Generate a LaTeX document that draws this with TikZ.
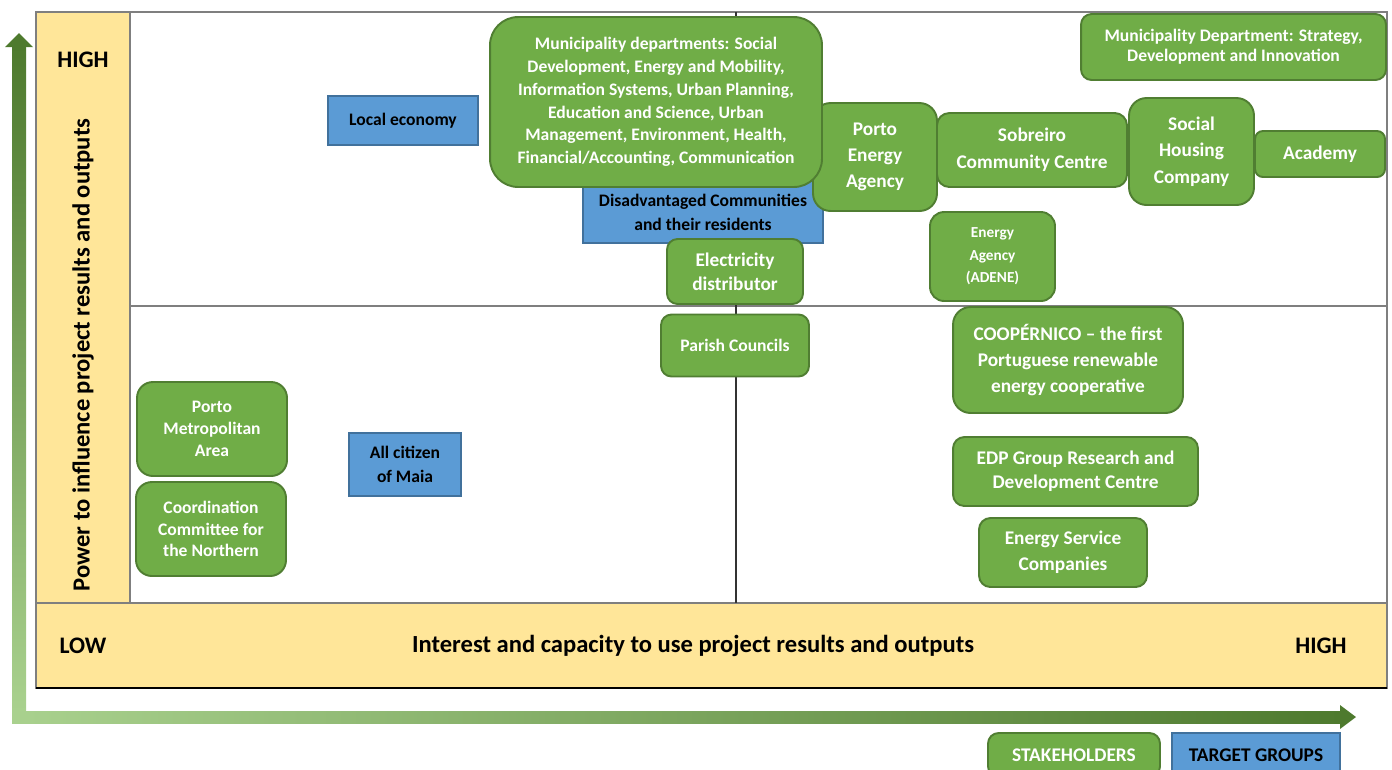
\documentclass[tikz,border=0pt]{standalone}
\usepackage{fontspec}
\setmainfont{Carlito}

\definecolor{gridyellow}{HTML}{FFE699}
\definecolor{stakefill}{HTML}{70AD47}
\definecolor{stakeline}{HTML}{507E32}
\definecolor{targetfill}{HTML}{5B9BD5}
\definecolor{targetline}{HTML}{41719C}
\definecolor{arrdark}{HTML}{4E7A2E}
\definecolor{arrmid}{HTML}{70AD47}
\definecolor{arrlight}{HTML}{A9D18E}
\definecolor{gridline}{HTML}{7F7F7F}

\newcommand\boxfs[1]{\fontsize{10}{#1}\selectfont\bfseries}
\newcommand\boxfsl[1]{\fontsize{11}{#1}\selectfont\bfseries}

\begin{document}
\begin{tikzpicture}[x=0.02cm, y=-0.02cm,
    stake/.style={draw=stakeline, fill=stakefill, text=white, line width=1.1pt,
                  align=center, inner sep=0pt, font=\boxfs{13}},
    target/.style={draw=targetline, fill=targetfill, text=black, line width=1.1pt,
                   align=center, inner sep=0pt, font=\boxfs{13.6}},
    axislabel/.style={font=\fontsize{13.5}{16}\selectfont\bfseries, inner sep=0pt},
    axistitle/.style={font=\fontsize{14}{16}\selectfont\bfseries, inner sep=0pt}]

      \path[use as bounding box, clip] (0,0) rectangle (1392,769);

      % grid
      \fill[gridyellow] (36,12) rectangle (130,688);
      \fill[gridyellow] (36,603) rectangle (1387,688);
      \draw[gridline, line width=0.8pt] (36,12) rectangle (1387,688);
      \draw[gridline, line width=0.8pt] (130,12) -- (130,603);
      \draw[gridline, line width=0.8pt] (36,603) -- (1387,603);
      \draw[gridline, line width=0.8pt] (130,306) -- (1387,306);
      \draw[black!80, line width=0.6pt] (736,12) -- (736,603);
      \draw[black, line width=0.8pt] (36,688) -- (1387,688);

      \node[axislabel] (hiY) at (83,60) {HIGH};
      \node[axislabel] (loX) at (83,646) {LOW};
      \node[axislabel] (hiX) at (1321,646) {HIGH};
      \node[axistitle, rotate=90] (ytitle) at (83,355) {Power to influence project results and outputs};
      \node[axistitle] (xtitle) at (693,646) {Interest and capacity to use project results and outputs};

      % green arrows
      \fill[top color=arrdark, middle color=arrmid, bottom color=arrlight] (12,47) rectangle (26,711);
      \fill[arrdark] (5,47) -- (19,33) -- (33,47) -- cycle;
      \fill[left color=arrlight, middle color=arrmid, right color=arrdark] (12,711) rectangle (1341,723);
      \fill[arrdark] (1340,705) -- (1356,717) -- (1340,729) -- cycle;

      % high power, low interest
      \node[target, minimum width=3.00cm, minimum height=0.98cm] (local) at (403,120.5) {Local economy};
      \node[target, minimum width=4.80cm, minimum height=1.24cm] (disadv) at (703,212) {Disadvantaged Communities\\and their residents};
      \node[stake, rounded corners=10pt, minimum width=2.48cm, minimum height=2.16cm, font=\boxfsl{14.8}] (portoea) at (875,157) {Porto\\Energy\\Agency};
      \node[stake, rounded corners=16pt, minimum width=6.64cm, minimum height=3.40cm] (munidep) at (656,102)
        {Municipality departments: Social\\Development, Energy and Mobility,\\Information Systems, Urban Planning,\\Education and Science, Urban\\Management, Environment, Health,\\Financial/Accounting, Communication};
      \node[stake, rounded corners=6pt, minimum width=2.72cm, minimum height=1.30cm, font=\boxfsl{13.6}] (elec) at (735,271.5) {Electricity\\distributor};

      % high power, high interest
      \node[stake, rounded corners=6pt, minimum width=6.10cm, minimum height=1.32cm, font=\boxfs{11.3}] (munistrat) at (1233.5,47) {Municipality Department: Strategy,\\Development and Innovation};
      \node[stake, rounded corners=7pt, minimum width=3.80cm, minimum height=1.48cm, font=\boxfsl{15.3}] (sobreiro) at (1032,150) {Sobreiro\\Community Centre};
      \node[stake, rounded corners=10pt, minimum width=2.50cm, minimum height=2.14cm, font=\boxfsl{15}] (socialhc) at (1191.5,151.5) {Social\\Housing\\Company};
      \node[stake, rounded corners=4.5pt, minimum width=2.60cm, minimum height=0.92cm, font=\boxfsl{13}] (academy) at (1320,154) {Academy};
      \node[stake, rounded corners=8pt, minimum width=2.50cm, minimum height=1.78cm, font=\fontsize{8.7}{12.8}\selectfont\bfseries] (adene) at (992.5,256.5) {Energy\\Agency\\(ADENE)};

      % low power, low interest
      \node[stake, rounded corners=6pt, minimum width=2.96cm, minimum height=1.24cm] (parish) at (735,345.5) {Parish Councils};
      \node[stake, rounded corners=9pt, minimum width=3.00cm, minimum height=1.88cm, font=\boxfs{12.5}] (pma) at (212,429) {Porto\\Metropolitan\\Area};
      \node[stake, rounded corners=9pt, minimum width=3.00cm, minimum height=1.88cm, font=\boxfs{12.2}] (ccn) at (211,529) {Coordination\\Committee for\\the Northern};
      \node[target, minimum width=2.24cm, minimum height=1.26cm] (citizen) at (405,464.5) {All citizen\\of Maia};

      % low power, high interest
      \node[stake, rounded corners=10pt, minimum width=4.60cm, minimum height=2.12cm, font=\boxfsl{15}] (coop) at (1068,360) {COOPÉRNICO – the first\\Portuguese renewable\\energy cooperative};
      \node[stake, rounded corners=6.5pt, minimum width=4.90cm, minimum height=1.38cm, font=\boxfsl{13.6}] (edp) at (1075.5,471.5) {EDP Group Research and\\Development Centre};
      \node[stake, rounded corners=6.5pt, minimum width=3.36cm, minimum height=1.38cm, font=\boxfsl{14.8}] (esco) at (1063,552.5) {Energy Service\\Companies};

      % legend
      \node[stake, rounded corners=6pt, minimum width=3.44cm, minimum height=0.88cm, font=\boxfsl{13}] (legstake) at (1074,755) {STAKEHOLDERS};
      \node[target, minimum width=3.36cm, minimum height=0.88cm, font=\boxfsl{13}] (legtarget) at (1256,755) {TARGET GROUPS};

    \end{tikzpicture}
\end{document}
